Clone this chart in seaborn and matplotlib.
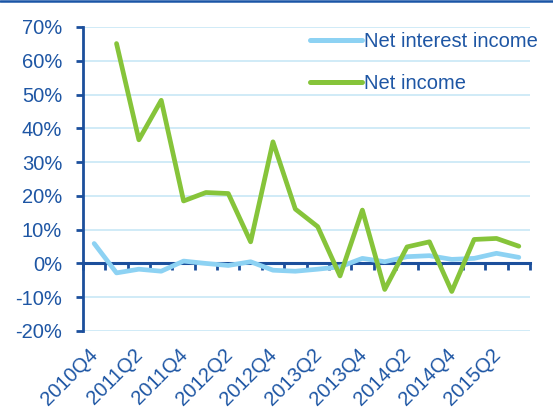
import numpy as np
import pandas as pd
import matplotlib
matplotlib.use("Agg")
import matplotlib.pyplot as plt
import seaborn as sns
from matplotlib.lines import Line2D
from matplotlib.transforms import ScaledTranslation

quarters = ["2010Q4", "2011Q1", "2011Q2", "2011Q3", "2011Q4", "2012Q1", "2012Q2",
            "2012Q3", "2012Q4", "2013Q1", "2013Q2", "2013Q3", "2013Q4", "2014Q1",
            "2014Q2", "2014Q3", "2014Q4", "2015Q1", "2015Q2", "2015Q3"]
net_interest_income = [5.9, -2.8, -1.7, -2.3, 0.7, 0.0, -0.6, 0.5, -2.0, -2.3,
                       -1.7, -1.0, 1.5, 0.5, 2.0, 2.3, 1.2, 1.5, 3.0, 1.8]
net_income = [np.nan, 65.1, 36.6, 48.3, 18.5, 21.0, 20.7, 6.4, 36.0, 16.1,
              10.9, -3.7, 15.8, -7.7, 4.9, 6.4, -8.3, 7.1, 7.4, 5.1]
series_names = ["Net interest income", "Net income"]
y_ticks = [-20, -10, 0, 10, 20, 30, 40, 50, 60, 70]
y_tick_labels = ["-20%", "-10%", "0%", "10%", "20%", "30%", "40%", "50%", "60%", "70%"]

TEXT = "#1E56A4"
AXC = "#1C4F9C"
colors = {series_names[0]: "#8DD2F3", series_names[1]: "#86C43A"}

idx = np.arange(len(quarters))
df = pd.concat([
    pd.DataFrame({"pos": idx, "value": net_interest_income, "series": series_names[0]}),
    pd.DataFrame({"pos": idx, "value": net_income, "series": series_names[1]}),
]).dropna()

sns.set_style("white")
plt.rcParams["font.family"] = ["Liberation Sans", "DejaVu Sans"]

fig = plt.figure(figsize=(5.53, 4.16), dpi=100)
ax = fig.add_axes([83/553, 1-331/416, (530-83)/553, (331-27)/416])

for v in y_ticks:
    if v != 0:
        ax.axhline(v, color="#C8E8F6", lw=1.2, zorder=0)

sns.lineplot(data=df, x="pos", y="value", hue="series", palette=colors,
             linewidth=3.4, ax=ax, legend=False, zorder=5, sort=False)

ax.set_xlim(-0.5, len(quarters) - 0.5)
ax.set_ylim(-20, 70)
ax.set_xlabel("")
ax.set_ylabel("")

for s in ["top", "right", "bottom"]:
    ax.spines[s].set_visible(False)
ax.spines["left"].set_color(AXC)
ax.spines["left"].set_linewidth(2)

ax.set_yticks(y_ticks)
ax.set_yticklabels(y_tick_labels)
ax.tick_params(axis="y", direction="out", length=5, width=2, color=AXC,
               labelcolor=TEXT, labelsize=14.5, pad=10, left=True)

ax.set_xticks(idx[::2])
ax.set_xticklabels(quarters[::2], rotation=45, ha="right", va="top",
                   rotation_mode="anchor")
ax.tick_params(axis="x", length=0, labelcolor=TEXT, labelsize=14.5, pad=10)
offset = ScaledTranslation(-4/72, 0, fig.dpi_scale_trans)
for lbl in ax.get_xticklabels():
    lbl.set_transform(lbl.get_transform() + offset)

# zero line axis with boundary ticks
sec = ax.secondary_xaxis(20/90)
sec.set_xticks(np.arange(len(quarters) + 1) - 0.5)
sec.set_xticklabels([])
sec.tick_params(axis="x", direction="out", length=5, width=2, color=AXC)
sec.spines["bottom"].set_color(AXC)
sec.spines["bottom"].set_linewidth(2.2)
sec.set_zorder(1)

handles = [Line2D([0], [0], color=colors[n], lw=3.6) for n in series_names]
leg = ax.legend(handles, series_names, loc="upper left", bbox_to_anchor=(0.49, 1.01),
                frameon=False, fontsize=14.5, handlelength=2.6, handletextpad=0.1,
                labelspacing=1.12, borderaxespad=0)
for t in leg.get_texts():
    t.set_color(TEXT)

fig.add_artist(Line2D([0, 1], [1 - 1/416, 1 - 1/416], color="#1A55A6", lw=1.8,
                      transform=fig.transFigure))

fig.savefig("out.png", dpi=100)
